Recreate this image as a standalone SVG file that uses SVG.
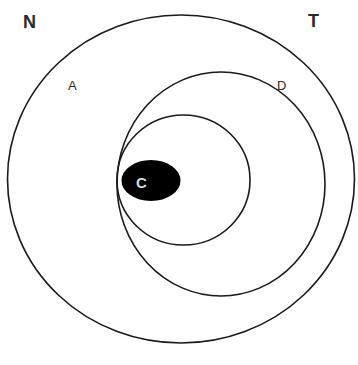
<svg xmlns="http://www.w3.org/2000/svg" width="358" height="365" viewBox="0 0 358 365">
<style>
.ring{fill:none;stroke:#1a1a1a;stroke-width:1.6}
.lbl{font-family:"Liberation Sans",Arial,sans-serif;fill:#2a2a2a}
</style>
<rect width="358" height="365" fill="#fff"/>
<g id="outer"><ellipse class="ring" cx="181" cy="179" rx="173.5" ry="164"/></g>
<g id="middle"><ellipse class="ring" cx="221" cy="184" rx="104" ry="112"/></g>
<g id="inner"><ellipse class="ring" cx="183.5" cy="180" rx="66.5" ry="65"/></g>
<g id="C">
<ellipse cx="151" cy="180.5" rx="31" ry="22" fill="#000" stroke="#fff" stroke-width="3"/>
<text class="lbl" x="141.5" y="188" font-size="15" font-weight="bold" text-anchor="middle" style="fill:#d8d8d8">C</text>
</g>
<g id="N"><text class="lbl" x="23" y="28" font-size="18" font-weight="bold">N</text></g>
<g id="T"><text class="lbl" x="308" y="27" font-size="18" font-weight="bold">T</text></g>
<g id="A"><text class="lbl" x="68" y="90" font-size="13">A</text></g>
<g id="D"><text class="lbl" x="277" y="90" font-size="13">D</text></g>
<g id="connectors"></g>
</svg>
